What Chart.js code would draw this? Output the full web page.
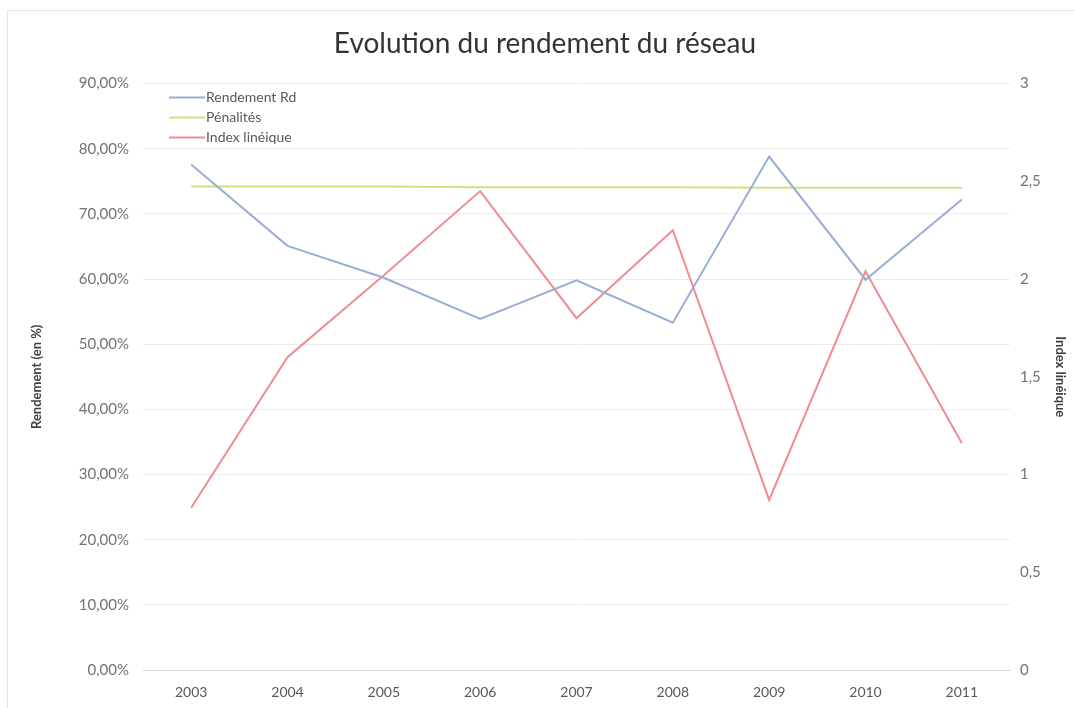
<!DOCTYPE html>
<html>
<head>
<meta charset="utf-8">
<script src="https://cdn.jsdelivr.net/npm/chart.js@4.4.1/dist/chart.umd.min.js"></script>
<style>
  html, body { margin: 0; padding: 0; background: #fff; }
  #wrap { position: relative; width: 1074px; height: 708px; overflow: hidden; }
  #frame { position: absolute; left: 7px; top: 10px; width: 1200px; height: 800px; border: 1px solid #e4e4e4; }
  canvas { position: absolute; left: 0; top: 0; }
</style>
</head>
<body>
<div id="wrap">
  <div id="frame"></div>
  <canvas id="rdChart" width="1074" height="708"></canvas>
</div>
<script>
// data
const years = ["2003", "2004", "2005", "2006", "2007", "2008", "2009", "2010", "2011"];
const rendementRd = [77.6, 65.1, 60.2, 53.9, 59.8, 53.3, 78.8, 59.9, 72.2]; // en %
const penalites = [74.2, 74.2, 74.2, 74.1, 74.1, 74.1, 74.0, 74.0, 74.0];   // en %
const indexLineique = [0.83, 1.60, 2.02, 2.45, 1.80, 2.25, 0.87, 2.04, 1.16];

const FONT = "Lato, 'Open Sans', sans-serif";

// legend drawn inside the plot, top left
const innerLegend = {
  id: "innerLegend",
  afterDraw(chart) {
    const ctx = chart.ctx;
    const area = chart.chartArea;
    ctx.save();
    ctx.font = "14px " + FONT;
    ctx.textBaseline = "middle";
    chart.data.datasets.forEach((ds, i) => {
      const y = area.top + 14 + i * 20;
      const x0 = area.left + 26;
      ctx.strokeStyle = ds.borderColor;
      ctx.lineWidth = 2;
      ctx.beginPath();
      ctx.moveTo(x0, y);
      ctx.lineTo(x0 + 36, y);
      ctx.stroke();
      ctx.fillStyle = "#595959";
      ctx.fillText(ds.label, x0 + 37, y);
    });
    ctx.restore();
  },
};

const ctx = document.getElementById("rdChart").getContext("2d");
new Chart(ctx, {
  type: "line",
  data: {
    labels: years,
    datasets: [
      {
        label: "Rendement Rd",
        data: rendementRd,
        yAxisID: "y",
        borderColor: "#98aed4",
        borderWidth: 2,
        pointRadius: 0,
        tension: 0,
      },
      {
        label: "Pénalités",
        data: penalites,
        yAxisID: "y",
        borderColor: "#d2e07c",
        borderWidth: 2,
        pointRadius: 0,
        tension: 0,
      },
      {
        label: "Index linéique",
        data: indexLineique,
        yAxisID: "y1",
        borderColor: "#ef8c92",
        borderWidth: 2,
        pointRadius: 0,
        tension: 0,
      },
    ],
  },
  plugins: [innerLegend],
  options: {
    responsive: false,
    animation: false,
    layout: { padding: { left: 16, right: 0, top: 0, bottom: 0 } },
    plugins: {
      legend: { display: false },
      tooltip: { enabled: false },
      title: {
        display: true,
        text: "Evolution du rendement du réseau",
        color: "#333333",
        font: { family: FONT, size: 28, weight: "normal", lineHeight: 1.2 },
        padding: { top: 27, bottom: 23 },
      },
    },
    scales: {
      x: {
        offset: true,
        grid: { display: false, offset: true },
        border: { display: true, color: "#d9d9d9" },
        ticks: { color: "#595959", font: { family: FONT, size: 14 }, padding: 6 },
        afterFit: (s) => { s.height = 38; },
      },
      y: {
        position: "left",
        min: 0,
        max: 90,
        ticks: {
          stepSize: 10,
          color: "#737373",
          font: { family: FONT, size: 15 },
          padding: 14,
          callback: (v) => v.toFixed(2).replace(".", ",") + "%",
        },
        grid: { color: "#ececec", drawTicks: false },
        border: { display: false },
        title: {
          display: true,
          text: "Rendement (en %)",
          color: "#404040",
          font: { family: FONT, size: 13, weight: "bold" },
          padding: { top: 13, bottom: 0 },
        },
        afterFit: (s) => { s.width = 127; },
      },
      y1: {
        position: "right",
        min: 0,
        max: 3,
        ticks: {
          stepSize: 0.5,
          color: "#737373",
          font: { family: FONT, size: 15 },
          padding: 10,
          callback: (v) => String(v).replace(".", ","),
        },
        grid: { drawOnChartArea: false, drawTicks: false },
        border: { display: false },
        title: {
          display: true,
          text: "Index linéique",
          color: "#404040",
          font: { family: FONT, size: 13, weight: "bold" },
          padding: { top: 6, bottom: 0 },
        },
        afterFit: (s) => { s.width = 64; },
      },
    },
  },
});
</script>
</body>
</html>
